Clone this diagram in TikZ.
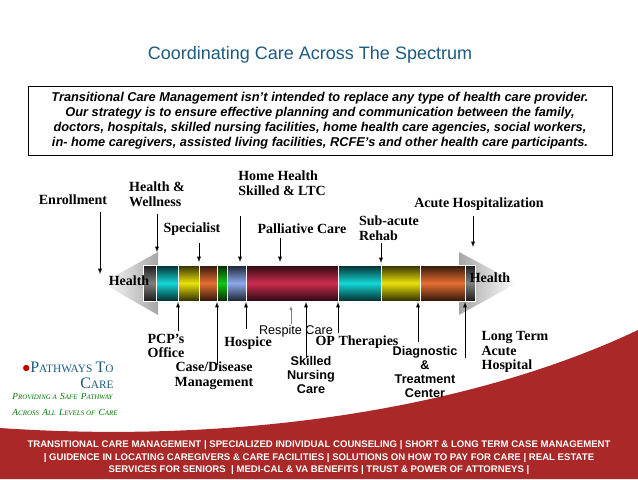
\documentclass[tikz,border=0pt]{standalone}
\usepackage{fontspec}
\setmainfont{Liberation Serif}
\setsansfont{Liberation Sans}
\usetikzlibrary{positioning}
\definecolor{titleblue}{RGB}{28,90,130}
\definecolor{footred}{RGB}{170,40,40}
\definecolor{segcyan}{RGB}{20,215,215}
\definecolor{segyellow}{RGB}{235,225,10}
\definecolor{segorange}{RGB}{230,110,50}
\definecolor{seggreen}{RGB}{20,200,20}
\definecolor{segblue}{RGB}{140,170,235}
\definecolor{segred}{RGB}{205,45,80}
\newcommand{\bigsmall}[2]{{\fontsize{12}{13}\selectfont #1}{\fontsize{8.5}{9}\selectfont #2}}
\newcommand{\tinysc}[2]{{\fontsize{7}{8}\selectfont #1}{\fontsize{5.2}{8}\selectfont #2}}
\begin{document}
\begin{tikzpicture}[x=0.75pt,y=-0.75pt,
lbl/.style={font=\bfseries\fontsize{10.5}{11}\selectfont, align=left, inner sep=1pt},
lbls/.style={font=\sffamily\bfseries\fontsize{9.5}{10.5}\selectfont, align=center, inner sep=1pt},
seg/.style={top color=black!80!#1, bottom color=black!80!#1, middle color=#1},
pt/.style={-latex, thin},
]
\useasboundingbox (0,0) rectangle (638,479);

%Footer
\fill[footred] (0,428) .. controls (250,445) and (480,405) .. (638,330) -- (638,479) -- (0,479) -- cycle;
\node[font=\sffamily\bfseries\fontsize{7.2}{9.4}\selectfont, text=white, align=center] (foot) at (319,458)
 {TRANSITIONAL CARE MANAGEMENT \textbar{}\ SPECIALIZED INDIVIDUAL COUNSELING \textbar{} SHORT \& LONG TERM CASE MANAGEMENT\\
 \textbar{} GUIDENCE IN LOCATING CAREGIVERS \& CARE FACILITIES \textbar{}\ SOLUTIONS ON HOW TO PAY FOR CARE \textbar{} REAL ESTATE\\
 SERVICES FOR SENIORS \ \textbar{} MEDI-CAL \& VA BENEFITS \textbar{} TRUST \& POWER OF ATTORNEYS \textbar{}};

%Title and box
\node[font=\sffamily\fontsize{13.5}{15}\selectfont, text=titleblue] (title) at (310,55) {Coordinating Care Across The Spectrum};
\node[draw, thin, minimum width=438pt, minimum height=52pt, align=center,
 font=\sffamily\bfseries\itshape\fontsize{9.6}{11.2}\selectfont] (intro) at (320,121)
 {Transitional Care Management isn't intended to replace any type of health care provider.\\
 Our strategy is to ensure effective planning and communication between the family,\\
 doctors, hospitals, skilled nursing facilities, home health care agencies, social workers,\\
 in- home caregivers, assisted living facilities, RCFE's and other health care participants.};

%Logo
\node[text=titleblue, align=right, inner sep=0pt] (logo) at (68,375) {\textcolor{red!75!black}{\large$\bullet$}\bigsmall{P}{ATHWAYS} \bigsmall{T}{O}\\ \bigsmall{C}{ARE}};
\node[font=\itshape, text=green!45!black, align=left, inner sep=0pt] (slogan) at (65,404) {\tinysc{P}{ROVIDING A} \tinysc{S}{AFE} \tinysc{P}{ATHWAY}\\ \tinysc{A}{CROSS} \tinysc{A}{LL} \tinysc{L}{EVELS OF} \tinysc{C}{ARE}};

%Arrow bar
\shade[left color=white, right color=gray!70] (102,283) -- (158,252) -- (158,315) -- cycle;
\shade[left color=gray!70, right color=white] (517,283) -- (459,252) -- (459,315) -- cycle;
\foreach \a/\b/\c in {143/156/gray, 156/178/segcyan, 178/199/segyellow, 199/217/segorange, 217/227/seggreen,
 227/246/segblue, 246/338/segred, 338/381/segcyan, 381/420/segyellow, 420/465/segorange, 465/475/gray}
 \shade[seg=\c, draw=white, line width=0.4pt] (\a,265) rectangle (\b,301);
\coordinate (barbot) at (0,302);
\node[lbl] (hl) at (129,281) {Health};
\node[lbl] (hr) at (490,278) {Health};

%Top labels
\node[lbl] (enroll) at (73,200) {Enrollment};
\node[lbl] (wellness) at (157,194) {Health \&\\Wellness};
\node[lbl] (spec) at (192,229) {Specialist};
\node[lbl] (home) at (282,183) {Home Health\\Skilled \& LTC};
\node[lbl] (pall) at (302,229) {Palliative Care};
\node[lbl] (subac) at (389,228) {Sub-acute\\Rehab};
\node[lbl] (acute) at (479,204) {Acute Hospitalization};

%Bottom labels
\node[lbl, align=center] (pcp) at (166,346) {PCP's\\Office};
\node[lbl, align=center] (casem) at (214,376) {Case/Disease\\Management};
\node[lbl] (hosp) at (248,343) {Hospice};
\node[font=\sffamily\fontsize{9.5}{10}\selectfont, inner sep=1pt] (resp) at (296,331) {Respite Care};
\node[lbls] (snc) at (311,375) {Skilled\\Nursing\\Care};
\node[lbl] (opt) at (357,342) {OP Therapies};
\node[lbls] (diag) at (425,372) {Diagnostic\\\&\\Treatment\\Center};
\node[lbl] (ltac) at (515,352) {Long Term\\Acute\\Hospital};

%Lines
\draw[pt] (100,212) -- (100,274);
\draw[pt] (157,214) -- (157,252);
\draw[pt] (199,243) -- (199,262);
\draw[pt] (240,216) -- (240,262);
\draw[pt] (280,238) -- (280,262);
\draw[pt] (381,243) -- (381,263);
\draw[pt] (473,216) -- (473,247);
\draw[pt] (178,331) -- (barbot -| 178,0);
\draw[pt] (217,365) -- (barbot -| 217,0);
\draw[pt] (246,329) -- (barbot -| 246,0);
\draw[-latex, ultra thin, gray] (291,324) -- (291,306);
\draw[pt] (306,358) -- (barbot -| 306,0);
\draw[pt] (338,333) -- (barbot -| 338,0);
\draw[pt] (418,342) -- (barbot -| 418,0);
\draw[pt] (465,358) -- (barbot -| 465,0);
\end{tikzpicture}
\end{document}
